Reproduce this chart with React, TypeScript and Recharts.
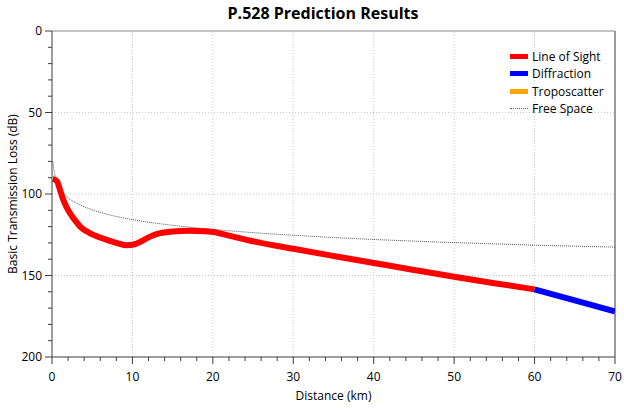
import React from 'react';
import { LineChart, Line, XAxis, YAxis, ReferenceLine } from 'recharts';

// Line of sight segment (distance km, loss dB)
const losDist = [0.1, 0.6, 1.0, 1.4, 1.8, 2.2, 3.0, 3.5, 4.7, 6.0, 7.0, 8.0, 9.2, 10.3, 11.0, 12.0, 13.0, 15.0, 17.0, 19.0, 20.0, 22.0, 25.0, 30.0, 35.0, 40.0, 45.0, 50.0, 55.0, 60.0];
const losLoss = [90.7, 92, 97.5, 103.5, 108, 111.5, 117, 120, 124, 126.7, 128.4, 130, 131.4, 130.8, 129.3, 126.6, 124.6, 123, 122.5, 122.8, 123.3, 125.5, 129, 133.6, 138, 142.3, 146.6, 150.8, 154.7, 158.5];

// Diffraction segment
const diffDist = [60, 65, 70];
const diffLoss = [158.5, 165.3, 172];

// Free space reference
const fsDist = [0.1, 0.3, 0.6, 1, 1.5, 2, 3, 4, 5, 6, 8, 10, 12, 15, 20, 25, 30, 35, 40, 45, 50, 55, 60, 65, 70];
const fsLoss = [80, 87, 92.5, 97, 100.5, 102.5, 105.5, 107.8, 109.7, 111.3, 113.8, 115.7, 117.3, 119.2, 121.7, 123.7, 125.3, 126.7, 127.9, 128.9, 129.8, 130.6, 131.4, 132, 132.6];

const xTicks = [0, 2, 4, 6, 8, 10, 12, 14, 16, 18, 20, 22, 24, 26, 28, 30, 32, 34, 36, 38, 40, 42, 44, 46, 48, 50, 52, 54, 56, 58, 60, 62, 64, 66, 68, 70];
const yTicks = [0, 10, 20, 30, 40, 50, 60, 70, 80, 90, 100, 110, 120, 130, 140, 150, 160, 170, 180, 190, 200];
const xGrid = [10, 20, 30, 40, 50, 60];
const yGrid = [50, 100, 150];

const legendItems = [
  { name: 'Line of Sight', color: '#ff0000', dotted: false },
  { name: 'Diffraction', color: '#0000ff', dotted: false },
  { name: 'Troposcatter', color: '#ffa500', dotted: false },
  { name: 'Free Space', color: '#666666', dotted: true },
];

const losData = losDist.map((d, i) => ({ d, loss: losLoss[i] }));
const diffData = diffDist.map((d, i) => ({ d, loss: diffLoss[i] }));
const fsData = fsDist.map((d, i) => ({ d, loss: fsLoss[i] }));

const FONT = '"Open Sans", "Noto Sans", sans-serif';
const AXIS = '#3c3c3c';

const XTick = (props: any) => {
  const { x, y, payload } = props;
  const major = payload.value % 10 === 0;
  return (
    <g>
      <line x1={x} x2={x} y1={y} y2={y + (major ? 7 : 4)} stroke={AXIS} strokeWidth={1} />
      {major && (
        <text x={x} y={y + 24} textAnchor="middle" fontSize={12} fontFamily={FONT} fill="#000">
          {payload.value}
        </text>
      )}
    </g>
  );
};

const YTick = (props: any) => {
  const { x, y, payload } = props;
  const major = payload.value % 50 === 0;
  return (
    <g>
      <line x1={x - (major ? 7 : 4)} x2={x} y1={y} y2={y} stroke={AXIS} strokeWidth={1} />
      {major && (
        <text x={x - 10} y={y + 4} textAnchor="end" fontSize={12} fontFamily={FONT} fill="#000">
          {payload.value}
        </text>
      )}
    </g>
  );
};

const LegendBox = () => (
  <div style={{ position: 'absolute', left: 510, top: 48, fontFamily: FONT, fontSize: 12, color: '#000' }}>
    {legendItems.map((item) => (
      <div key={item.name} style={{ display: 'flex', alignItems: 'center', height: 17.3 }}>
        {item.dotted ? (
          <div style={{ width: 18, height: 0, borderTop: `1px dotted ${item.color}`, marginRight: 4 }} />
        ) : (
          <div style={{ width: 18, height: 5, background: item.color, marginRight: 4 }} />
        )}
        <span>{item.name}</span>
      </div>
    ))}
  </div>
);

export default function App() {
  return (
    <div style={{ position: 'absolute', left: 0, top: 0, width: 624, height: 408, background: '#fff' }}>
      <div
        style={{
          position: 'absolute',
          left: 0,
          width: 646,
          top: 2,
          textAlign: 'center',
          fontFamily: FONT,
          fontWeight: 700,
          fontSize: 16,
          color: '#000',
        }}
      >
        P.528 Prediction Results
      </div>
      <LineChart width={624} height={408} margin={{ top: 31, right: 9, left: 0, bottom: 0 }}>
        <XAxis
          type="number"
          dataKey="d"
          domain={[0, 70]}
          ticks={xTicks}
          interval={0}
          allowDataOverflow
          height={51}
          tickSize={0}
          tickMargin={0}
          tickLine={false}
          tick={<XTick />}
          stroke={AXIS}
          label={{ value: 'Distance (km)', position: 'insideBottom', offset: 8, fontSize: 12, fontFamily: FONT, fill: '#000' }}
        />
        <YAxis
          type="number"
          dataKey="loss"
          domain={[0, 200]}
          reversed
          ticks={yTicks}
          interval={0}
          allowDataOverflow
          width={52}
          tickSize={0}
          tickMargin={0}
          tickLine={false}
          tick={<YTick />}
          stroke={AXIS}
          label={{ value: 'Basic Transmission Loss (dB)', angle: -90, position: 'insideLeft', offset: 13, style: { textAnchor: 'middle' }, fontSize: 12, fontFamily: FONT, fill: '#000' }}
        />
        {xGrid.map((v) => (
          <ReferenceLine key={`gx${v}`} x={v} stroke="#c8c8c8" strokeDasharray="1 2" />
        ))}
        {yGrid.map((v) => (
          <ReferenceLine key={`gy${v}`} y={v} stroke="#c8c8c8" strokeDasharray="1 2" />
        ))}
        <ReferenceLine y={0} stroke="#8a8a8a" />
        <ReferenceLine x={70} stroke="#7a7a7a" strokeWidth={1.5} />
        <Line
          data={fsData}
          dataKey="loss"
          type="monotone"
          stroke="#555555"
          strokeWidth={1}
          strokeDasharray="1 1"
          dot={false}
          isAnimationActive={false}
        />
        <Line
          data={losData}
          dataKey="loss"
          type="monotone"
          stroke="#ff0000"
          strokeWidth={6}
          dot={false}
          isAnimationActive={false}
        />
        <Line
          data={diffData}
          dataKey="loss"
          type="monotone"
          stroke="#0000ff"
          strokeWidth={6}
          dot={false}
          isAnimationActive={false}
        />
      </LineChart>
      <LegendBox />
    </div>
  );
}
